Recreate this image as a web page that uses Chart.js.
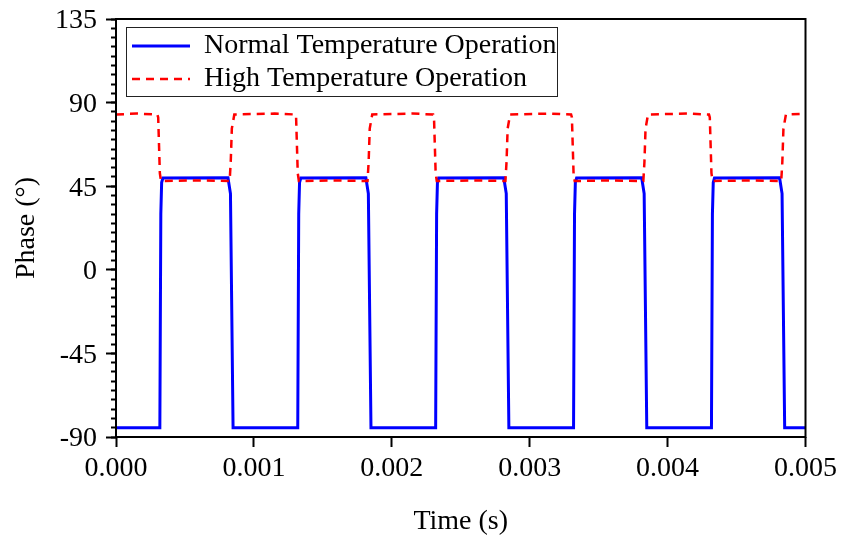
<!DOCTYPE html>
<html>
<head>
<meta charset="utf-8">
<script src="https://cdn.jsdelivr.net/npm/chart.js@4/dist/chart.umd.min.js"></script>
<style>
  html, body { margin: 0; padding: 0; background: #ffffff; }
  #wrap { width: 842px; height: 536px; }
</style>
</head>
<body>
<div id="wrap"><canvas id="c" width="842" height="536"></canvas></div>
<script>
// ---- Data ----
const seriesNames = ['Normal Temperature Operation', 'High Temperature Operation'];

const timeNormal = [
  0.000000,
  0.000318, 0.000325, 0.000331, 0.000340, 0.000812, 0.000830, 0.000849,
  0.001318, 0.001325, 0.001331, 0.001340, 0.001812, 0.001830, 0.001849,
  0.002318, 0.002325, 0.002331, 0.002340, 0.002812, 0.002830, 0.002849,
  0.003318, 0.003325, 0.003331, 0.003340, 0.003812, 0.003830, 0.003849,
  0.004318, 0.004325, 0.004331, 0.004340, 0.004812, 0.004830, 0.004849,
  0.005000
];
const phaseNormal = [
  -85.0,
  -85.0, 30, 47, 49.4, 49.6, 41, -85.0,
  -85.0, 30, 47, 49.4, 49.6, 41, -85.0,
  -85.0, 30, 47, 49.4, 49.6, 41, -85.0,
  -85.0, 30, 47, 49.4, 49.6, 41, -85.0,
  -85.0, 30, 47, 49.4, 49.6, 41, -85.0,
  -85.0
];

const timeHigh = [
  0.000000, 0.000150, 0.000300, 0.000306, 0.000318, 0.000326, 0.000600, 0.000824, 0.000832, 0.000840, 0.000858,
  0.001150, 0.001300, 0.001306, 0.001318, 0.001326, 0.001600, 0.001824, 0.001832, 0.001840, 0.001858,
  0.002150, 0.002300, 0.002306, 0.002318, 0.002326, 0.002600, 0.002824, 0.002832, 0.002840, 0.002858,
  0.003150, 0.003300, 0.003306, 0.003318, 0.003326, 0.003600, 0.003824, 0.003832, 0.003840, 0.003858,
  0.004150, 0.004300, 0.004306, 0.004318, 0.004326, 0.004600, 0.004824, 0.004832, 0.004840, 0.004858,
  0.005000
];
const phaseHigh = [
  83.6, 84.1, 83.6, 82, 52, 47.8, 48.1, 47.8, 58, 76, 83.6,
  84.1, 83.6, 82, 52, 47.8, 48.1, 47.8, 58, 76, 83.6,
  84.1, 83.6, 82, 52, 47.8, 48.1, 47.8, 58, 76, 83.6,
  84.1, 83.6, 82, 52, 47.8, 48.1, 47.8, 58, 76, 83.6,
  84.1, 83.6, 82, 52, 47.8, 48.1, 47.8, 58, 76, 83.6,
  84.0
];

const xTicks = [0.000, 0.001, 0.002, 0.003, 0.004, 0.005];
const yTicks = [-90, -45, 0, 45, 90, 135];
const xTitle = 'Time (s)';
const yTitle = 'Phase (°)';

// ---- Chart ----
const FONT = "'Liberation Serif', 'Times New Roman', serif";

const framePlugin = {
  id: 'framePlugin',
  afterLayout(chart) {
    const lg = chart.legend, ca = chart.chartArea;
    if (lg) { lg.left = ca.left + 11; lg.top = ca.top + 8; }
  },
  afterDraw(chart) {
    const ctx = chart.ctx, ca = chart.chartArea;
    ctx.save();
    ctx.strokeStyle = '#000';
    ctx.lineWidth = 2;
    ctx.setLineDash([]);
    ctx.strokeRect(ca.left, ca.top, ca.right - ca.left, ca.bottom - ca.top);
    // legend frame
    const lg = chart.legend;
    const lo = chart.options.plugins.legend.labels;
    ctx.font = lo.font.size + 'px ' + FONT;
    let w = 0;
    seriesNames.forEach(s => { w = Math.max(w, ctx.measureText(s).width); });
    const pad = lo.padding;
    const left = lg.left + pad - 6;
    const textStart = lg.left + pad + lo.pointStyleWidth + lo.font.size / 2;
    const right = textStart + w;
    const top = lg.top;
    const rowC2 = lg.top + pad + lo.font.size / 2 + lo.font.size + pad;
    const bottom = rowC2 + 17;
    ctx.lineWidth = 1;
    ctx.strokeStyle = '#222';
    ctx.strokeRect(Math.round(left) + 0.5, Math.round(top) + 0.5, Math.round(right - left), Math.round(bottom - top));
    ctx.restore();
  }
};

new Chart(document.getElementById('c'), {
  type: 'line',
  data: {
    datasets: [
      {
        label: seriesNames[0],
        data: timeNormal.map((t, i) => ({ x: t, y: phaseNormal[i] })),
        borderColor: '#0000ff',
        backgroundColor: '#0000ff',
        borderWidth: 3,
        pointRadius: 0,
        tension: 0,
        fill: false,
        order: 1
      },
      {
        label: seriesNames[1],
        data: timeHigh.map((t, i) => ({ x: t, y: phaseHigh[i] })),
        borderColor: '#ff0000',
        backgroundColor: '#ff0000',
        borderWidth: 2.5,
        borderDash: [8, 6],
        pointRadius: 0,
        tension: 0,
        fill: false,
        order: 0
      }
    ]
  },
  options: {
    responsive: false,
    animation: false,
    devicePixelRatio: 1,
    layout: { padding: { left: 0, top: 19, right: 36, bottom: 0 } },
    plugins: {
      tooltip: { enabled: false },
      legend: {
        position: 'chartArea',
        align: 'start',
        labels: {
          usePointStyle: true,
          pointStyle: 'line',
          pointStyleWidth: 58,
          padding: 5,
          color: '#000',
          font: { family: FONT, size: 28 },
          generateLabels: (chart) => {
            const items = Chart.defaults.plugins.legend.labels.generateLabels(chart);
            items.forEach(it => {
              const ds = chart.data.datasets[it.datasetIndex];
              it.lineDash = ds.borderDash || [];
              it.lineWidth = ds.borderWidth;
              it.strokeStyle = ds.borderColor;
              it.fillStyle = ds.borderColor;
              it.pointStyle = 'line';
            });
            return items;
          },
          sort: (a, b) => a.datasetIndex - b.datasetIndex
        }
      }
    },
    scales: {
      x: {
        type: 'linear',
        min: xTicks[0],
        max: xTicks[xTicks.length - 1],
        afterFit: s => { s.height = 99; },
        grid: { drawOnChartArea: false, drawTicks: true, tickLength: 10, tickWidth: 2, tickColor: '#000' },
        border: { display: false },
        ticks: {
          stepSize: 0.001,
          autoSkip: false,
          maxRotation: 0,
          padding: 5,
          color: '#000',
          font: { family: FONT, size: 28 },
          callback: v => Number(v).toFixed(3)
        },
        afterBuildTicks: s => { s.ticks = xTicks.map(v => ({ value: v })); },
        title: {
          display: true,
          text: xTitle,
          color: '#000',
          font: { family: FONT, size: 28, lineHeight: 1 },
          padding: { top: 0, bottom: 0 }
        }
      },
      y: {
        type: 'linear',
        position: 'left',
        weight: 1,
        min: yTicks[0],
        max: yTicks[yTicks.length - 1],
        afterFit: s => { s.width = 116; },
        grid: { drawOnChartArea: false, drawTicks: true, tickLength: 10, tickWidth: 2, tickColor: '#000' },
        border: { display: false },
        ticks: {
          stepSize: 45,
          autoSkip: false,
          padding: 9,
          labelOffset: 2,
          color: '#000',
          font: { family: FONT, size: 28, lineHeight: 0.3 }
        },
        afterBuildTicks: s => { s.ticks = yTicks.map(v => ({ value: v })); },
        title: {
          display: true,
          text: yTitle,
          color: '#000',
          font: { family: FONT, size: 28, lineHeight: 1 },
          padding: { top: 13, bottom: 0 }
        }
      },
      yMinor: {
        type: 'linear',
        position: 'left',
        weight: 0,
        min: yTicks[0],
        max: yTicks[yTicks.length - 1],
        afterFit: s => { s.width = 0; },
        grid: { drawOnChartArea: false, drawTicks: true, tickLength: 5, tickWidth: 2, tickColor: '#000' },
        border: { display: false },
        ticks: { display: false, stepSize: 5, padding: 0 }
      }
    }
  },
  plugins: [framePlugin]
});
</script>
</body>
</html>
